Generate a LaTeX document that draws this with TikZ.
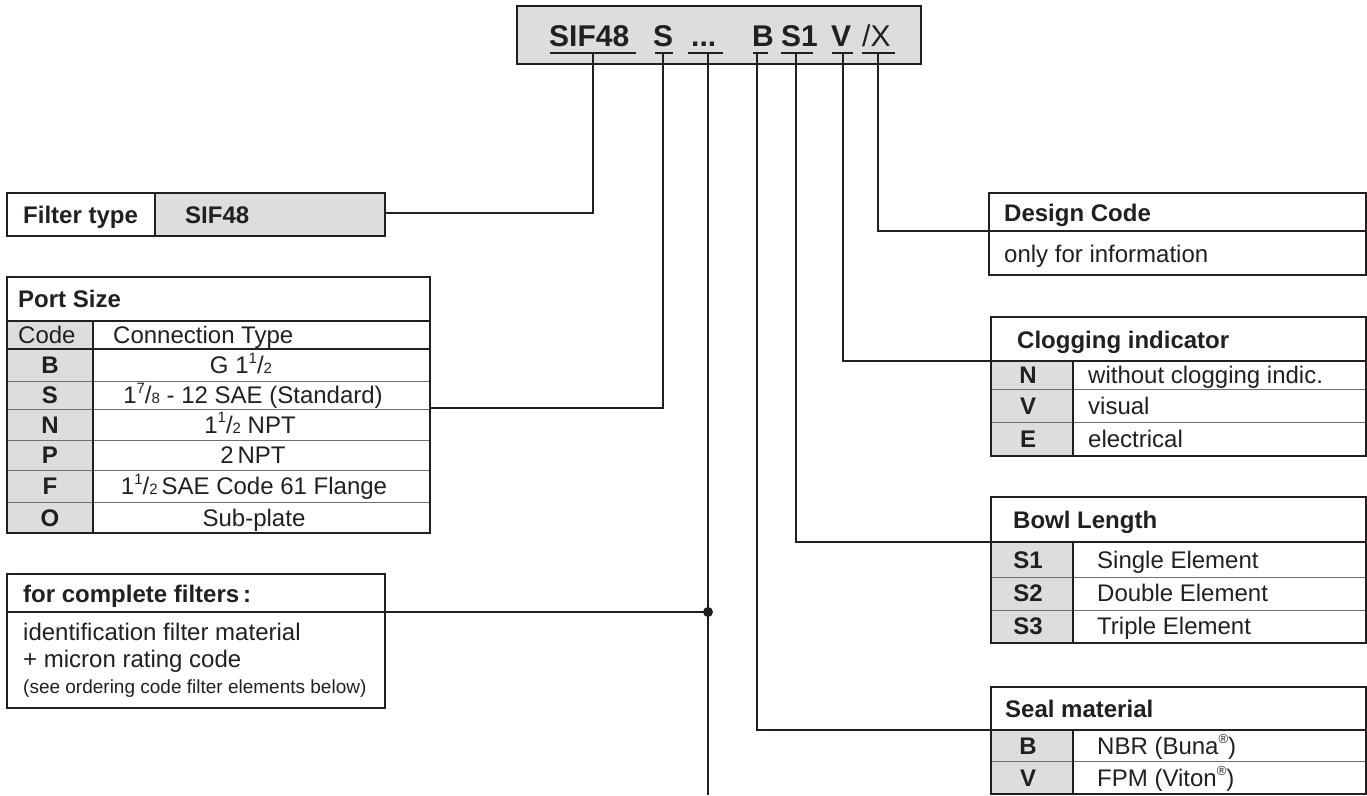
\documentclass[tikz,border=0pt]{standalone}
\usepackage{fontspec}
\setmainfont{Liberation Sans}
\definecolor{cellgray}{HTML}{DCDDDF}
\definecolor{ink}{HTML}{231F20}
\definecolor{thinc}{HTML}{707070}
\newcommand{\fs}[1]{\fontsize{#1}{#1}\selectfont}
\newcommand{\myfr}[2]{\raisebox{0.42em}{\fs{15}#1}/{\fs{15}#2}}
\newcommand{\myreg}{\raisebox{0.45em}{\fs{13}®}}
\begin{document}
\begin{tikzpicture}[x=1pt,y=-1pt,
  box/.style={draw=ink,line width=1.8pt},
  thinline/.style={draw=thinc,line width=0.9pt},
  conn/.style={draw=ink,line width=1.8pt},
  uline/.style={draw=ink,line width=2pt},
  lbl/.style={inner sep=0pt,anchor=base west,text=ink,font=\fs{24}},
  blbl/.style={lbl,font=\fs{24}\bfseries},
  clbl/.style={lbl,anchor=base},
  cblbl/.style={blbl,anchor=base},
  hdrtok/.style={lbl,font=\fs{30}\bfseries},
]
\useasboundingbox (0,0) rectangle (1367,795);

% ---------- fills ----------
\fill[cellgray] (517,6) rectangle (921,64);
\fill[cellgray] (155,193) rectangle (385,236);
\fill[cellgray] (7,321) rectangle (93,533);
\fill[cellgray] (991,361) rectangle (1073,456);
\fill[cellgray] (991,542) rectangle (1073,643);
\fill[cellgray] (991,730) rectangle (1073,794);

% ---------- named points ----------
\coordinate (u1) at (593,53);
\coordinate (u2) at (663,53);
\coordinate (u3) at (708,53);
\coordinate (u4) at (757,53);
\coordinate (u5) at (796,53);
\coordinate (u6) at (843,53);
\coordinate (u7) at (878,53);
\coordinate (ftE) at (385,213);
\coordinate (psE) at (430,408);
\coordinate (cfE) at (385,612);
\coordinate (dot) at (708,612);
\coordinate (bot) at (708,795);
\coordinate (dcW) at (989,231);
\coordinate (ciW) at (991,361);
\coordinate (blW) at (991,542);
\coordinate (smW) at (991,730);

% ---------- connectors ----------
\draw[conn] (u1) |- (ftE);
\draw[conn] (u2) |- (psE);
\draw[conn] (u3) -- (bot);
\draw[conn] (cfE) -- (dot);
\draw[conn] (u4) |- (smW);
\draw[conn] (u5) |- (blW);
\draw[conn] (u6) |- (ciW);
\draw[conn] (u7) |- (dcW);
\fill[ink] (dot) circle (5pt);

% ---------- header box ----------
\draw[box] (517,6) rectangle (921,64);
\node[hdrtok] (hSIF) at (549,46) {SIF48};
\node[hdrtok] (hS) at (653,46) {S};
\node[hdrtok] (hDots) at (691,46) {...};
\node[hdrtok] (hB) at (752,46) {B};
\node[hdrtok] (hS1) at (781,46) {S1};
\node[hdrtok] (hV) at (831,46) {V};
\node[hdrtok,font=\fs{30}] (hX) at (862,46) {/X};
\draw[uline] (550,53) -- (636,53);
\draw[uline] (655,53) -- (673,53);
\draw[uline] (688,53) -- (723,53);
\draw[uline] (753,53) -- (768,53);
\draw[uline] (781,53) -- (813,53);
\draw[uline] (832,53) -- (853,53);
\draw[uline] (862,53) -- (895,53);

% ---------- filter type ----------
\draw[box] (7,193) rectangle (385,236);
\draw[box] (155,193) -- (155,236);
\node[blbl] (ftL) at (23,223) {Filter type};
\node[blbl] (ftV) at (185,223) {SIF48};

% ---------- port size ----------
\foreach \yy in {381,409,440,470,502} \draw[thinline] (7,\yy) -- (430,\yy);
\draw[box] (7,277) rectangle (430,533);
\draw[box] (7,321) -- (430,321);
\draw[box] (7,349) -- (430,349);
\draw[box] (93,321) -- (93,533);
\node[blbl] (psH) at (18,307) {Port Size};
\node[lbl] (psC) at (18,343.5) {Code};
\node[lbl] (psT) at (113,343.5) {Connection Type};
\node[cblbl] (psB) at (50,373.5) {B};
\node[cblbl] (psS) at (50,403.5) {S};
\node[cblbl] (psN) at (50,433) {N};
\node[cblbl] (psP) at (50,463.5) {P};
\node[cblbl] (psF) at (50,494.5) {F};
\node[cblbl] (psO) at (50,526) {O};
\node[clbl] (psBt) at (241,373.5) {G 1\myfr{1}{2}};
\node[clbl] (psSt) at (253,403.5) {1\myfr{7}{8} - 12 SAE (Standard)};
\node[clbl] (psNt) at (250,433) {1\myfr{1}{2} NPT};
\node[clbl] (psPt) at (253,463.5) {2\,NPT};
\node[clbl] (psFt) at (254,494.5) {1\myfr{1}{2}\,SAE Code 61 Flange};
\node[clbl] (psOt) at (254,526) {Sub-plate};

% ---------- complete filters ----------
\draw[box] (7,574) rectangle (385,708);
\draw[box] (7,612) -- (385,612);
\node[blbl] (cfH) at (23,602) {for complete filters\,:};
\node[lbl] (cf1) at (23,640) {identification filter material};
\node[lbl] (cf2) at (23,667) {+ micron rating code};
\node[lbl,font=\fs{19}] (cf3) at (23,693) {(see ordering code filter elements below)};

% ---------- design code ----------
\draw[box] (989,193) rectangle (1366,275);
\draw[box] (989,231) -- (1366,231);
\node[blbl] (dcH) at (1004,221) {Design Code};
\node[lbl] (dcT) at (1004,262) {only for information};

% ---------- clogging indicator ----------
\draw[thinline] (991,389) -- (1366,389);
\draw[thinline] (991,422) -- (1366,422);
\draw[box] (991,317) rectangle (1366,456);
\draw[box] (991,361) -- (1366,361);
\draw[box] (1073,361) -- (1073,456);
\node[blbl] (ciH) at (1017,348) {Clogging indicator};
\node[cblbl] (ciN) at (1028,383.5) {N};
\node[cblbl] (ciV) at (1028,414) {V};
\node[cblbl] (ciE) at (1028,447.5) {E};
\node[lbl] (ciNt) at (1088,383.5) {without clogging indic.};
\node[lbl] (ciVt) at (1088,414) {visual};
\node[lbl] (ciEt) at (1088,447.5) {electrical};

% ---------- bowl length ----------
\draw[thinline] (991,577) -- (1366,577);
\draw[thinline] (991,610) -- (1366,610);
\draw[box] (991,497) rectangle (1366,643);
\draw[box] (991,542) -- (1366,542);
\draw[box] (1073,542) -- (1073,643);
\node[blbl] (blH) at (1013,528) {Bowl Length};
\node[cblbl] (bl1) at (1028,568) {S1};
\node[cblbl] (bl2) at (1028,601) {S2};
\node[cblbl] (bl3) at (1028,634) {S3};
\node[lbl] (bl1t) at (1097,568) {Single Element};
\node[lbl] (bl2t) at (1097,601) {Double Element};
\node[lbl] (bl3t) at (1097,634) {Triple Element};

% ---------- seal material ----------
\draw[thinline] (991,761) -- (1366,761);
\draw[box] (991,687) rectangle (1366,794);
\draw[box] (991,730) -- (1366,730);
\draw[box] (1073,730) -- (1073,794);
\node[blbl] (smH) at (1005,717) {Seal material};
\node[cblbl] (smB) at (1028,754) {B};
\node[cblbl] (smV) at (1028,786) {V};
\node[lbl] (smBt) at (1097,754) {NBR (Buna\myreg)};
\node[lbl] (smVt) at (1097,786) {FPM (Viton\myreg)};
\end{tikzpicture}
\end{document}
